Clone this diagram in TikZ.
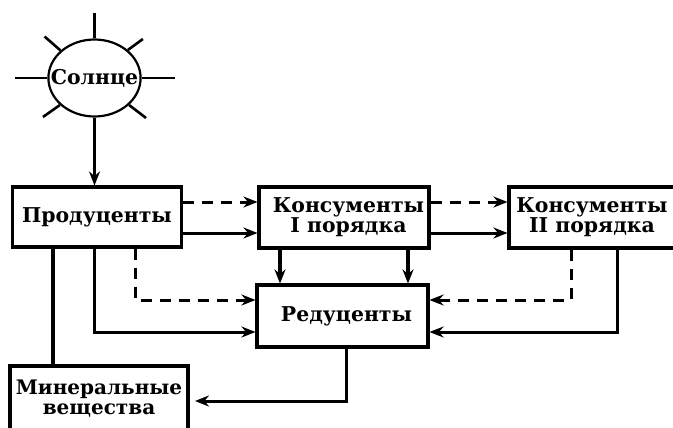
\documentclass[tikz,border=0pt]{standalone}
\usepackage{fontspec}
\setmainfont{DejaVu Serif}
\usetikzlibrary{arrows.meta,shapes.geometric}

\tikzset{
  box/.style={draw,line width=3.1pt,inner sep=0pt,align=center},
  flow/.style={line width=3pt,-{Stealth[length=14pt,width=11pt]}},
  dflow/.style={flow,dash pattern=on 11pt off 8pt},
  ray/.style={line width=2.6pt}
}

\begin{document}
\begin{tikzpicture}[x=1pt,y=-1pt,font=\fontsize{20.4}{20}\selectfont\bfseries]
  \useasboundingbox (0,0) rectangle (673,428);
  \clip (0,0) rectangle (673,428);
  \node[box,minimum width=169pt,minimum height=60pt] (prod) at (97,217) {Продуценты};
  \node[box,minimum width=170pt,minimum height=61pt] (kons1) at (344,217.5) {\hspace*{9pt}Консументы\\\hspace*{9pt}I порядка};
  \node[box,minimum width=166pt,minimum height=61pt] (kons2) at (592,217.5) {Консументы\\II порядка};
  \node[box,minimum width=171pt,minimum height=62pt] (red) at (342.5,316) {\hspace*{8pt}Редуценты};
  \node[box,minimum width=178pt,minimum height=65pt,font=\fontsize{20}{20}\selectfont\bfseries] (min) at (99,398.5) {Минеральные\\вещества};
  \node[ellipse,draw,line width=2.2pt,inner xsep=-11pt,inner ysep=0pt,minimum height=77pt] (sun) at (94.5,78) {Солнце};
  % rays
  \foreach \ang/\dx/\dy in {90/0/-25,180/-32/0,0/33/0,141/-16/-14,40/15/-11,218/-17/12,322/17/13}{
    \draw[ray] (sun.\ang)--++(\dx,\dy);
  }
  \draw[flow,line width=3.2pt] (sun.south)--(sun.south |- prod.north);
  % levels of the arrows
  \coordinate (up) at (0,202);
  \coordinate (lo) at (0,233);
  \coordinate (rup) at (0,300);
  \coordinate (rlo) at (0,332);
  \coordinate (a) at (53,0);
  \coordinate (b) at (94,0);
  \coordinate (c) at (135,0);
  \coordinate (d) at (280,0);
  \coordinate (e) at (408,0);
  \coordinate (f) at (571,0);
  \coordinate (g) at (617,0);
  \coordinate (h) at (346,0);
  \coordinate (minend) at (195,401);
  \draw[dflow] (prod.east |- up)--(kons1.west |- up);
  \draw[flow] (prod.east |- lo)--(kons1.west |- lo);
  \draw[dflow] (kons1.east |- up)--(kons2.west |- up);
  \draw[flow] (kons1.east |- lo)--(kons2.west |- lo);
  \draw[flow,line width=3.2pt] (d |- kons1.south)--(d |- red.north);
  \draw[flow,line width=3.2pt] (e |- kons1.south)--(e |- red.north);
  \draw[line width=3.2pt] (a |- prod.south)--(a |- min.north);
  \draw[flow] (b |- prod.south)--(b |- rlo)--(red.west |- rlo);
  \draw[dflow] (c |- prod.south)--(c |- rup)--(red.west |- rup);
  \draw[dflow] (f |- kons2.south)--(f |- rup)--(red.east |- rup);
  \draw[flow] (g |- kons2.south)--(g |- rlo)--(red.east |- rlo);
  \draw[flow] (h |- red.south)--(h |- minend)--(minend);
\end{tikzpicture}
\end{document}
